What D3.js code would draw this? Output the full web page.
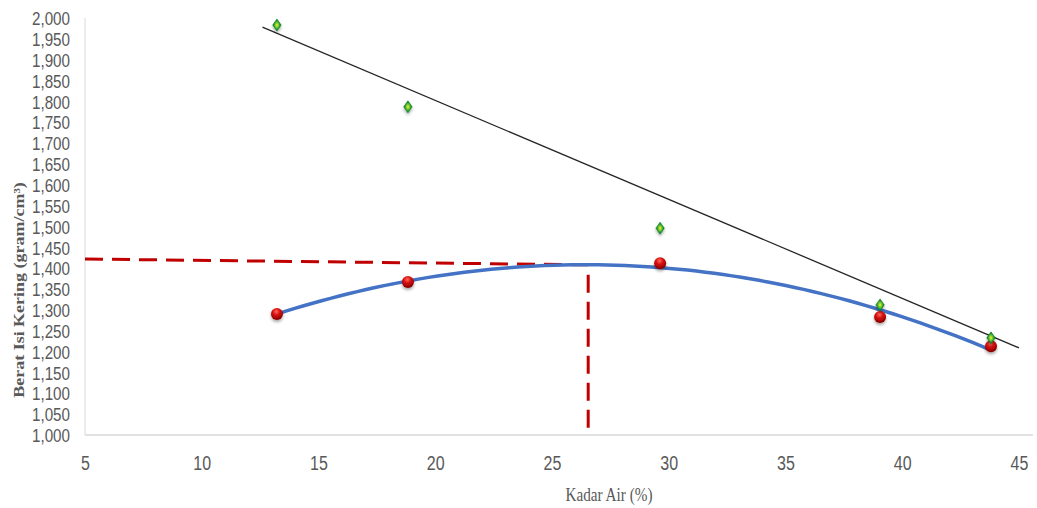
<!DOCTYPE html>
<html>
<head>
<meta charset="utf-8">
<script src="https://cdn.jsdelivr.net/npm/d3@7"></script>
<style>
  body { margin: 0; background: #fff; }
  .tick text { font-family: "Liberation Sans", Arial, sans-serif; fill: #595959; }
</style>
</head>
<body>
<div id="chart"></div>
<script>
// measured points (kadar air %, berat isi kering)
var kadarAir = [13.22, 18.83, 29.63, 39.05, 43.8]
var beratLab = [1.290, 1.367, 1.412, 1.283, 1.213]
var beratZav = [1.983, 1.787, 1.496, 1.312, 1.233]

// linear trend for the green series (start and end)
var zavLineX = [12.6, 45]
var zavLineY = [1.978, 1.209]

// optimum read-off lines
var optX = [5, 26.55, 26.55]
var optY = [1.422, 1.408, 1.000]

var xTicks = [5, 10, 15, 20, 25, 30, 35, 40, 45]
var yTicks = d3.range(0, 21).map(function(i) { return 1 + i * 0.05 })

var svgWidth = 1037
var svgHeight = 508
var margin = { top: 18, right: 18, bottom: 73, left: 85 }
var width = svgWidth - margin.left - margin.right
var height = svgHeight - margin.top - margin.bottom
var squeeze = 0.8

var svg = d3.select('#chart')
  .append('svg')
  .attr('width', svgWidth)
  .attr('height', svgHeight)

var defs = svg.append('defs')

var shadow = defs.append('filter').attr('id', 'shadow')
  .attr('x', '-50%').attr('y', '-50%').attr('width', '200%').attr('height', '220%')
shadow.append('feDropShadow')
  .attr('dx', 0).attr('dy', 2).attr('stdDeviation', 1.6)
  .attr('flood-color', '#000').attr('flood-opacity', 0.35)

var redGrad = defs.append('radialGradient').attr('id', 'redBall')
  .attr('cx', '45%').attr('cy', '30%').attr('r', '65%')
redGrad.append('stop').attr('offset', '0%').attr('stop-color', '#ff6a5a')
redGrad.append('stop').attr('offset', '45%').attr('stop-color', '#d81010')
redGrad.append('stop').attr('offset', '100%').attr('stop-color', '#8a0000')

var greenGrad = defs.append('radialGradient').attr('id', 'greenGem')
  .attr('cx', '50%').attr('cy', '50%').attr('r', '55%')
greenGrad.append('stop').attr('offset', '0%').attr('stop-color', '#f4f040')
greenGrad.append('stop').attr('offset', '30%').attr('stop-color', '#8fcf2a')
greenGrad.append('stop').attr('offset', '65%').attr('stop-color', '#139a30')
greenGrad.append('stop').attr('offset', '100%').attr('stop-color', '#0a6a22')

var chartGroup = svg.append('g')
  .attr('transform', `translate(${margin.left}, ${margin.top})`)

var xScale = d3.scaleLinear().domain([5, 45]).range([0, 934])
var yScale = d3.scaleLinear().domain([1, 2]).range([height, 0])

// squeeze text horizontally like the original
function narrow(sel) {
  sel.each(function() {
    var w = this.getComputedTextLength()
    d3.select(this)
      .attr('textLength', w * squeeze)
      .attr('lengthAdjust', 'spacingAndGlyphs')
  })
}

// axes
var xAxis = d3.axisBottom(xScale).tickValues(xTicks).tickSize(0).tickPadding(21)
var yAxis = d3.axisLeft(yScale).tickValues(yTicks).tickSize(0).tickPadding(15)
  .tickFormat(function(d) { return d3.format('.3f')(d).replace('.', ',') })

var xg = chartGroup.append('g')
  .attr('transform', `translate(0, ${height})`)
  .call(xAxis)
xg.select('.domain').remove()
xg.selectAll('text').style('font-size', '20px').call(narrow)

var yg = chartGroup.append('g').call(yAxis)
yg.select('.domain').remove()
yg.selectAll('text').style('font-size', '19px').attr('dy', '0.35em').call(narrow)

chartGroup.append('line')
  .attr('x1', 0).attr('x2', 0).attr('y1', 0).attr('y2', height)
  .attr('stroke', '#d9d9d9').attr('stroke-width', 1)
chartGroup.append('line')
  .attr('x1', 0).attr('x2', width + 14).attr('y1', height).attr('y2', height)
  .attr('stroke', '#d9d9d9').attr('stroke-width', 1.5)

// polynomial (order 2) trend for the red series, least squares
function polyFit(xs, ys) {
  var s = [0, 0, 0, 0, 0], t = [0, 0, 0]
  xs.forEach(function(x, i) {
    for (var k = 0; k < 5; k++) s[k] += Math.pow(x, k)
    for (var k = 0; k < 3; k++) t[k] += Math.pow(x, k) * ys[i]
  })
  var m = [[s[0], s[1], s[2], t[0]], [s[1], s[2], s[3], t[1]], [s[2], s[3], s[4], t[2]]]
  for (var i = 0; i < 3; i++) {
    for (var j = i + 1; j < 3; j++) {
      var f = m[j][i] / m[i][i]
      for (var k = i; k < 4; k++) m[j][k] -= f * m[i][k]
    }
  }
  var c = [0, 0, 0]
  for (var i = 2; i >= 0; i--) {
    var v = m[i][3]
    for (var k = i + 1; k < 3; k++) v -= m[i][k] * c[k]
    c[i] = v / m[i][i]
  }
  return c
}
var coef = polyFit(kadarAir, beratLab)
var xMin = d3.min(kadarAir), xMax = d3.max(kadarAir)
var curve = d3.range(xMin, xMax + 0.001, (xMax - xMin) / 80).map(function(x) {
  return [x, coef[0] + coef[1] * x + coef[2] * x * x]
})

var line = d3.line()
  .x(function(d) { return xScale(d[0]) })
  .y(function(d) { return yScale(d[1]) })

// black linear trendline
chartGroup.append('path')
  .datum(zavLineX.map(function(x, i) { return [x, zavLineY[i]] }))
  .attr('d', line)
  .attr('fill', 'none')
  .attr('stroke', '#262626')
  .attr('stroke-width', 1.3)

// red dashed optimum lines
chartGroup.append('path')
  .datum(optX.map(function(x, i) { return [x, optY[i]] }))
  .attr('d', line)
  .attr('fill', 'none')
  .attr('stroke', '#c00000')
  .attr('stroke-width', 3)
  .attr('stroke-dasharray', '18,9')

// blue polynomial trendline
chartGroup.append('path')
  .datum(curve)
  .attr('d', line)
  .attr('fill', 'none')
  .attr('stroke', '#4472c4')
  .attr('stroke-width', 3.5)

// red ball markers
chartGroup.selectAll('.labPoint')
  .data(kadarAir)
  .enter()
  .append('circle')
  .attr('class', 'labPoint')
  .attr('cx', function(d) { return xScale(d) })
  .attr('cy', function(d, i) { return yScale(beratLab[i]) })
  .attr('r', 6)
  .attr('fill', 'url(#redBall)')
  .attr('filter', 'url(#shadow)')

// green diamond markers
chartGroup.selectAll('.zavPoint')
  .data(kadarAir)
  .enter()
  .append('path')
  .attr('class', 'zavPoint')
  .attr('d', 'M0,-6 L4.2,0 L0,6 L-4.2,0 Z')
  .attr('transform', function(d, i) { return `translate(${xScale(d)}, ${yScale(beratZav[i])})` })
  .attr('fill', 'url(#greenGem)')
  .attr('stroke', '#0e7a26')
  .attr('stroke-width', 0.6)
  .attr('filter', 'url(#shadow)')

// axis titles
svg.append('text')
  .attr('transform', `translate(19, 290) scale(${squeeze}, 1) rotate(-90)`)
  .attr('text-anchor', 'middle')
  .attr('dy', '0.35em')
  .style('font-family', '"Liberation Serif", "Times New Roman", serif')
  .style('font-weight', 'bold')
  .style('font-size', '18px')
  .style('fill', '#595959')
  .text('Berat Isi Kering (gram/cm³)')

svg.append('text')
  .attr('x', 609)
  .attr('y', 501)
  .attr('text-anchor', 'middle')
  .style('font-family', '"Liberation Serif", "Times New Roman", serif')
  .style('font-size', '19px')
  .style('fill', '#595959')
  .text('Kadar Air (%)')
  .call(narrow)
</script>
</body>
</html>
